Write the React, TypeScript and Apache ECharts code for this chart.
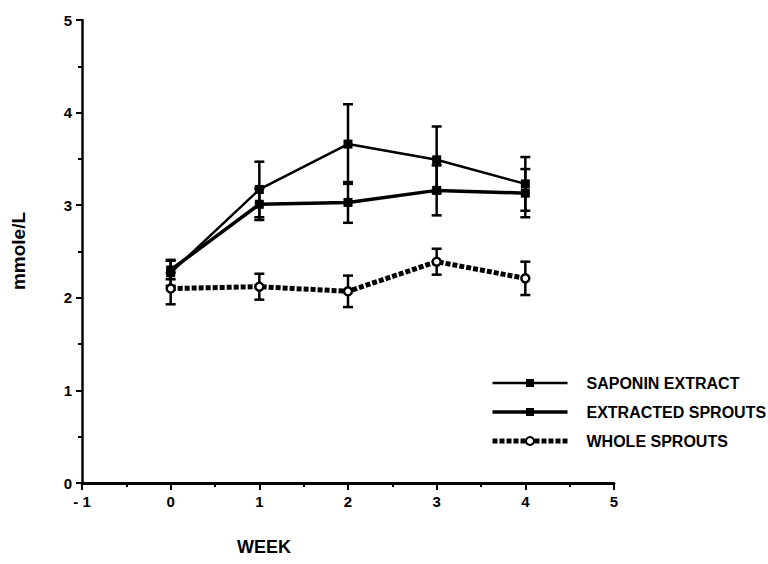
import React, { useEffect, useRef } from "react";
import * as echarts from "echarts";

const weeks = [0, 1, 2, 3, 4];
const saponin = [2.27, 3.17, 3.66, 3.49, 3.23];
const saponinErr = [0.14, 0.3, 0.43, 0.36, 0.29];
const extracted = [2.3, 3.01, 3.03, 3.16, 3.13];
const extractedErr = [0.1, 0.17, 0.22, 0.27, 0.26];
const whole = [2.1, 2.12, 2.07, 2.39, 2.21];
const wholeErr = [0.17, 0.14, 0.17, 0.14, 0.18];

const FONT = "Liberation Sans, Arial, sans-serif";

function errData(vals: number[], errs: number[]) {
  return weeks.map((w, i) => [w, vals[i] - errs[i], vals[i] + errs[i]]);
}

function errSeries(name: string, vals: number[], errs: number[]) {
  return {
    type: "custom",
    name: name + " err",
    data: errData(vals, errs),
    encode: { x: 0, y: [1, 2] },
    z: 1,
    renderItem: (params: any, api: any) => {
      const x = api.value(0);
      const lo = api.coord([x, api.value(1)]);
      const hi = api.coord([x, api.value(2)]);
      const w = 5;
      const st = { stroke: "#000", lineWidth: 2.5 };
      return {
        type: "group",
        children: [
          { type: "line", shape: { x1: lo[0], y1: lo[1], x2: hi[0], y2: hi[1] }, style: st },
          { type: "line", shape: { x1: lo[0] - w, y1: lo[1], x2: lo[0] + w, y2: lo[1] }, style: st },
          { type: "line", shape: { x1: hi[0] - w, y1: hi[1], x2: hi[0] + w, y2: hi[1] }, style: st },
        ],
      };
    },
  };
}

export default function App() {
  const ref = useRef<HTMLDivElement>(null);
  useEffect(() => {
    const chart = echarts.init(ref.current!, null, { renderer: "svg" });
    const labelStyle = { color: "#000", fontWeight: "bold", fontSize: 15, fontFamily: FONT };
    chart.setOption({
      animation: false,
      backgroundColor: "#fff",
      grid: { left: 82, right: 154, top: 20, bottom: 81, outerBoundsMode: "none" },
      xAxis: {
        type: "value",
        min: -1,
        max: 5,
        interval: 1,
        axisLine: { show: true, onZero: false, lineStyle: { color: "#000", width: 3 } },
        axisTick: { show: true, length: 7, lineStyle: { color: "#000", width: 2 } },
        minorTick: { show: true, splitNumber: 2, length: 4, lineStyle: { color: "#000", width: 2 } },
        splitLine: { show: false },
        axisLabel: { ...labelStyle, margin: 11, formatter: (v: number) => (v < 0 ? "- " + Math.abs(v) : String(v)) },
      },
      yAxis: {
        type: "value",
        min: 0,
        max: 5,
        interval: 1,
        axisLine: { show: true, onZero: false, lineStyle: { color: "#000", width: 2.5 } },
        axisTick: { show: true, length: 6, lineStyle: { color: "#000", width: 2 } },
        minorTick: { show: true, splitNumber: 2, length: 4, lineStyle: { color: "#000", width: 2 } },
        splitLine: { show: false },
        axisLabel: { ...labelStyle, margin: 10 },
      },
      legend: {
        orient: "vertical",
        left: 485,
        top: 370,
        itemWidth: 75,
        itemHeight: 10,
        itemGap: 13,
        textStyle: { color: "#000", fontWeight: "bold", fontSize: 16, fontFamily: FONT, padding: [0, 0, 0, 14] },
        data: [
          { name: "SAPONIN EXTRACT", lineStyle: { width: 2.5 } },
          { name: "EXTRACTED SPROUTS", lineStyle: { width: 3.5 } },
          { name: "WHOLE SPROUTS", lineStyle: { width: 5, type: [5, 2] } },
        ],
      },
      graphic: [
        {
          type: "text",
          x: 18,
          y: 251,
          rotation: Math.PI / 2,
          style: { text: "mmole/L", fill: "#000", font: `bold 19px ${FONT}`, align: "center", verticalAlign: "middle" },
        },
        {
          type: "text",
          x: 264,
          y: 547,
          style: { text: "WEEK", fill: "#000", font: `bold 18px ${FONT}`, align: "center", verticalAlign: "middle" },
        },
      ],
      series: [
        errSeries("SAPONIN EXTRACT", saponin, saponinErr),
        errSeries("EXTRACTED SPROUTS", extracted, extractedErr),
        errSeries("WHOLE SPROUTS", whole, wholeErr),
        {
          type: "line",
          name: "SAPONIN EXTRACT",
          data: weeks.map((w, i) => [w, saponin[i]]),
          symbol: "rect",
          symbolSize: 9,
          itemStyle: { color: "#000" },
          lineStyle: { color: "#000", width: 2.5 },
          z: 3,
        },
        {
          type: "line",
          name: "EXTRACTED SPROUTS",
          data: weeks.map((w, i) => [w, extracted[i]]),
          symbol: "rect",
          symbolSize: 9,
          itemStyle: { color: "#000" },
          lineStyle: { color: "#000", width: 3.5 },
          z: 3,
        },
        {
          type: "line",
          name: "WHOLE SPROUTS",
          data: weeks.map((w, i) => [w, whole[i]]),
          symbol: "circle",
          symbolSize: 8,
          itemStyle: { color: "#fff", borderColor: "#000", borderWidth: 2.5 },
          lineStyle: { color: "#000", width: 5, type: [5, 2] },
          z: 3,
        },
      ],
    });
    return () => chart.dispose();
  }, []);
  return <div ref={ref} style={{ width: 768, height: 564, position: "absolute", left: 0, top: 0 }} />;
}
